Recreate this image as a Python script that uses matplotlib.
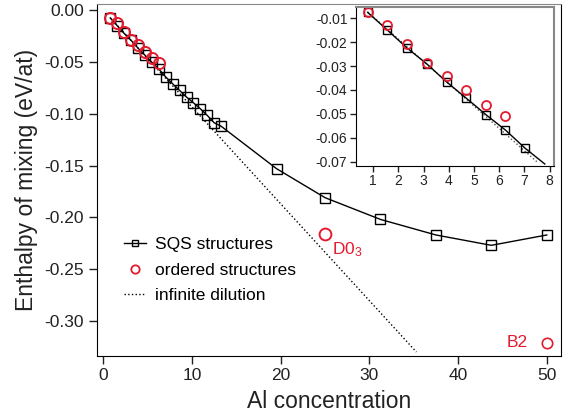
import numpy as np
import matplotlib
matplotlib.use("Agg")
import matplotlib.pyplot as plt

plt.rcParams['font.family'] = ['Liberation Sans', 'DejaVu Sans']
plt.rcParams['axes.unicode_minus'] = False
plt.rcParams['mathtext.default'] = 'regular'

RED = '#e41b2f'

# SQS structures (Al at.%, eV/at)
sqs_x = [0.78, 1.56, 2.34, 3.13, 3.91, 4.69, 5.47, 6.25, 7.03, 7.81, 8.59,
         9.38, 10.16, 10.94, 11.72, 12.5, 13.28, 19.53, 25.0, 31.25, 37.5,
         43.75, 50.0]
sqs_y = [-0.0075, -0.0149, -0.0224, -0.0291, -0.0366, -0.0434, -0.0503,
         -0.0568, -0.0644, -0.0710, -0.0774, -0.0839, -0.0894, -0.0952,
         -0.1016, -0.1087, -0.1120, -0.153, -0.181, -0.202, -0.217, -0.227,
         -0.217]

# ordered structures, dilute range
ord_x = [0.78, 1.56, 2.34, 3.13, 3.91, 4.69, 5.47, 6.25]
ord_y = [-0.0075, -0.0128, -0.0209, -0.0289, -0.0340, -0.0401, -0.0461, -0.0511]

# named ordered phases
d03_x, d03_y = 25.0, -0.216
b2_x, b2_y = 50.0, -0.321

# infinite dilution line
dil_x = [0.78, 35.3]
dil_y = [-0.0073, -0.330]
dil_x_inset = [0.78, 7.5]
dil_y_inset = [-0.0073, -0.0701]

fig = plt.figure(figsize=(5.73, 4.2), dpi=100)
ax = fig.add_axes([0.170, 0.152, 0.809, 0.838])

ax.plot(dil_x, dil_y, ':', color='black', lw=1.0)
ax.plot(sqs_x, sqs_y, '-', color='black', lw=1.0)
ax.plot(sqs_x, sqs_y, 's', mfc='none', mec='black', ms=7.5, mew=1.0)
ax.plot(ord_x, ord_y, 'o', mfc='none', mec=RED, ms=8, mew=1.4)
ax.plot(d03_x, d03_y, 'o', mfc='none', mec=RED, ms=8.5, mew=1.4)
ax.plot(b2_x, b2_y, 'o', mfc='none', mec=RED, ms=7.5, mew=1.2)
ax.text(25.8, -0.2355, 'D0$_3$', color=RED, fontsize=12.5, ha='left', va='baseline')
ax.text(47.8, -0.321, 'B2', color=RED, fontsize=12.5, ha='right', va='center')

# legend handles
h_sqs, = ax.plot([], [], '-s', color='black', mfc='none', mec='black', ms=5, lw=1.0,
                 label='SQS structures')
h_ord, = ax.plot([], [], 'o', mfc='none', mec=RED, ms=6, mew=1.3, label='ordered structures')
h_dil, = ax.plot([], [], ':', color='black', lw=1.0, label='infinite dilution')
ax.legend(handles=[h_sqs, h_ord, h_dil], loc='upper left', bbox_to_anchor=(0.057, 0.338),
          frameon=False, fontsize=12.5, handlelength=1.3, handletextpad=0.5,
          labelspacing=0.6, borderpad=0, borderaxespad=0)

ax.set_xlim(-0.67, 51.6)
ax.set_ylim(-0.334, 0.0058)
ax.set_xticks([0, 10, 20, 30, 40, 50])
ax.set_yticks([0.0, -0.05, -0.10, -0.15, -0.20, -0.25, -0.30])
ax.set_yticklabels(['0.00', '-0.05', '-0.10', '-0.15', '-0.20', '-0.25', '-0.30'])
ax.tick_params(direction='out', length=6, width=1, labelsize=12.5, colors='#222222')
ax.tick_params(axis='x', pad=2.5)
ax.spines['top'].set_color('#888888')
ax.set_xlabel('Al concentration', fontsize=16.5, color='#222222', labelpad=5)
ax.set_ylabel('Enthalpy of mixing (eV/at)', fontsize=16.5, color='#222222', labelpad=5)

# inset
axi = fig.add_axes([0.621, 0.605, 0.346, 0.378])
axi.plot(dil_x_inset, dil_y_inset, ':', color='#555555', lw=1.0)
axi.plot(sqs_x[:10], sqs_y[:10], '-', color='black', lw=1.0)
axi.plot(sqs_x[:9], sqs_y[:9], 's', mfc='none', mec='black', ms=6, mew=1.0)
axi.plot(ord_x, ord_y, 'o', mfc='none', mec=RED, ms=6.5, mew=1.3)
axi.set_xlim(0.31, 8.18)
axi.set_ylim(-0.0718, -0.0053)
axi.set_xticks(range(1, 9))
axi.set_yticks([-0.01, -0.02, -0.03, -0.04, -0.05, -0.06, -0.07])
axi.set_yticklabels(['-0.01', '-0.02', '-0.03', '-0.04', '-0.05', '-0.06', '-0.07'])
axi.tick_params(direction='out', length=4, width=1, labelsize=10, colors='#222222', pad=2)
axi.spines['top'].set_color('#888888')
axi.spines['right'].set_color('#888888')
axi.spines['top'].set_linewidth(1.5)
axi.spines['right'].set_linewidth(1.5)

fig.savefig('out.png', dpi=100)
